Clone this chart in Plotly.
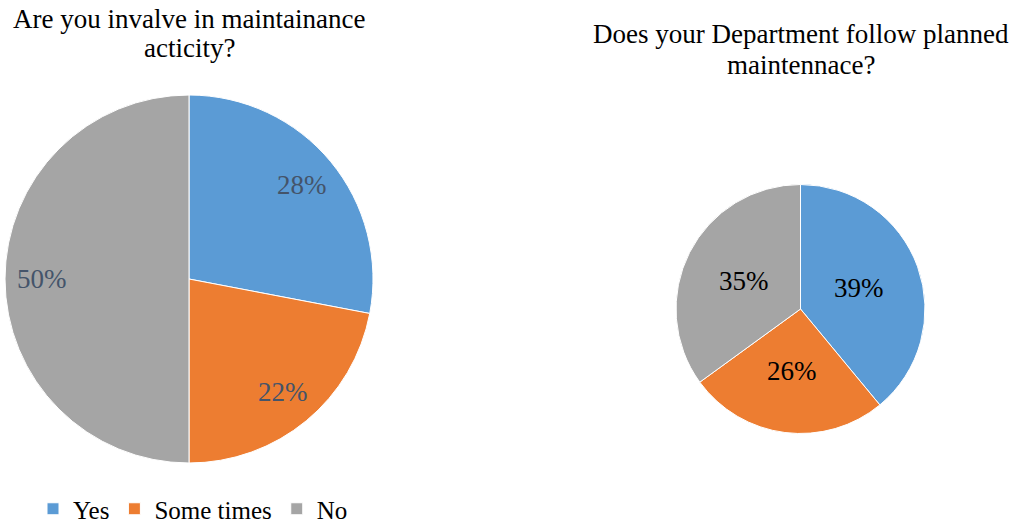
import math
import plotly.graph_objects as go

categories = ["Yes", "Some times", "No"]
left_values = [28, 22, 50]
right_values = [39, 26, 35]
left_title_lines = ["Are you invalve in maintainance", "acticity?"]
right_title_lines = ["Does your Department follow planned", "maintennace?"]
colors = ["#5B9BD5", "#ED7D31", "#A5A5A5"]

W, H = 1009, 527
FONT = "Times New Roman, Liberation Serif, DejaVu Serif, serif"

def dom(x0, x1, ytop, ybot):
    return dict(x=[x0 / W, x1 / W], y=[(H - ybot) / H, (H - ytop) / H])

def label_annotations(values, cx, cy, r, frac, color):
    total = sum(values)
    out = []
    acc = 0
    for v in values:
        mid = (acc + v / 2) / total * 2 * math.pi
        acc += v
        x = cx + frac * r * math.sin(mid)
        y = cy - frac * r * math.cos(mid)
        out.append(dict(text=f"{round(100 * v / total)}%", x=x / W, y=(H - y) / H,
                        xref="paper", yref="paper", showarrow=False,
                        xanchor="center", yanchor="middle",
                        font=dict(family=FONT, size=27, color=color)))
    return out

def title_annotations(lines, cx, ys):
    return [dict(text=t, x=cx / W, y=(H - y) / H, xref="paper", yref="paper",
                 showarrow=False, xanchor="center", yanchor="middle",
                 font=dict(family=FONT, size=27, color="black"))
            for t, y in zip(lines, ys)]

fig = go.Figure()
fig.add_trace(go.Pie(
    labels=categories, values=left_values, sort=False, direction="clockwise",
    rotation=0, marker=dict(colors=colors, line=dict(color="white", width=1)),
    textinfo="none", domain=dom(5, 373, 95, 463), legend="legend",
    hoverinfo="label+percent",
))
fig.add_trace(go.Pie(
    labels=categories, values=right_values, sort=False, direction="clockwise",
    rotation=0, marker=dict(colors=colors, line=dict(color="white", width=1)),
    textinfo="none", domain=dom(676, 925, 184, 434), legend="legend2",
    hoverinfo="label+percent",
))

annotations = []
annotations += title_annotations(left_title_lines, 189, [19, 48])
annotations += title_annotations(right_title_lines, 801, [34, 65])
annotations += label_annotations(left_values, 189, 279, 184, 0.8, "#44546A")
annotations += label_annotations(right_values, 800, 309, 125, 0.5, "black")

fig.update_layout(
    width=W, height=H, margin=dict(l=0, r=0, t=0, b=0, autoexpand=False),
    paper_bgcolor="white", plot_bgcolor="white",
    font=dict(family=FONT, size=25, color="black"),
    legend=dict(orientation="h", x=193 / W, xanchor="center", y=(H - 509) / H,
                yanchor="middle", font=dict(family=FONT, size=25, color="black"),
                bgcolor="rgba(0,0,0,0)", itemwidth=30),
    legend2=dict(orientation="h", x=804 / W, xanchor="center", y=(H - 509) / H,
                 yanchor="middle", font=dict(family=FONT, size=25, color="black"),
                 bgcolor="rgba(0,0,0,0)", itemwidth=30),
    annotations=annotations,
)

fig.write_html("out.html", config={"displayModeBar": False},
               post_script="document.body.style.margin='0';document.body.style.overflow='hidden';")
